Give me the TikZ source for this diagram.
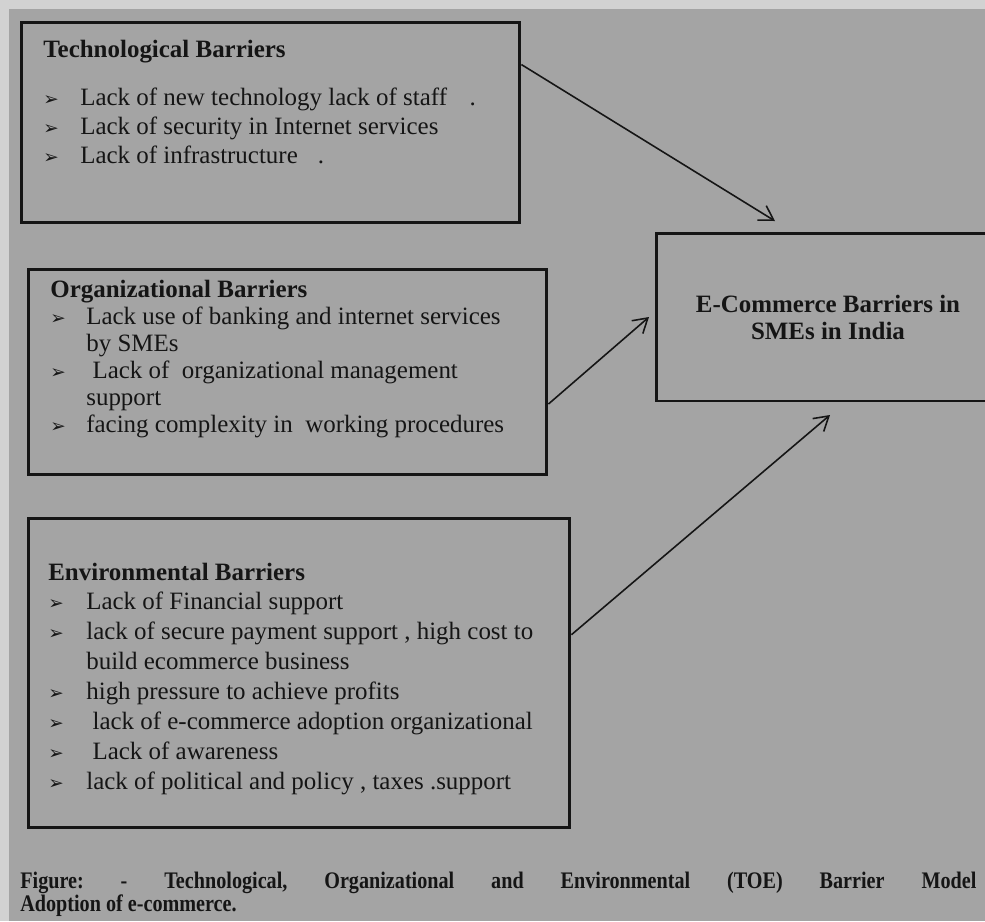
\documentclass[tikz,border=0pt]{standalone}
\usepackage{fontspec}
\setmainfont{Liberation Serif}
\newfontfamily\dingfont{DejaVu Sans}
\usepackage{xcolor}
\usepackage{graphicx}
\usepackage{tikz}
\usetikzlibrary{arrows.meta}
\usetikzlibrary{calc}
\definecolor{scangray}{HTML}{A4A4A4}
\definecolor{scanedge}{HTML}{D2D2D2}
\definecolor{inkblack}{HTML}{151515}
\tikzstyle{barbox}=[rectangle,draw=inkblack,line width=1.7pt,inner sep=0pt]
\tikzstyle{bartext}=[anchor=base west,inner sep=0pt,text=inkblack,font=\fontsize{14.2}{15.4}\selectfont]
\tikzstyle{barrow}=[draw=inkblack,line width=0.9pt,-{Straight Barb[length=2.8mm,width=3.4mm]}]
\tikzset{figcap/.style={anchor=base west,inner sep=0pt,align=left,text=inkblack,font=\bfseries\fontsize{13.5}{12.8}\selectfont}}
\newcommand{\barb}{{\dingfont\fontsize{10.5}{10.5}\selectfont ➢}}

\begin{document}
\frenchspacing
\begin{tikzpicture}[x=0.02cm, y=-0.02cm]

  \useasboundingbox (0,0) rectangle (985,921);
  \fill[scanedge] (0,0) rectangle (985,921);
  \fill[scangray] (9,9) rectangle (985,921);

  % the three barrier boxes and the target box
  \node[barbox, minimum width=9.98cm, minimum height=4.02cm] (tech) at (270.5,122.5) {};
  \node[barbox, minimum width=10.38cm, minimum height=4.12cm] (org) at (287.5,372) {};
  \node[barbox, minimum width=10.84cm, minimum height=6.2cm] (env) at (299,673) {};
  \node[barbox, minimum width=6.88cm, minimum height=3.36cm, align=center, text=inkblack,
        font=\bfseries\fontsize{14.2}{15.4}\selectfont] (ecom) at (828,317) {E-Commerce Barriers in\\SMEs in India};

  \node[bartext] (techtxt) at (43,57) {\renewcommand{\arraystretch}{1.074}%
    \begin{tabular}[t]{@{}p{0.74cm}@{}l@{}}
      \multicolumn{2}{@{}l@{}}{\bfseries Technological Barriers}\\[0.38cm]
      \barb & Lack of new technology lack of staff\hspace{0.45cm}.\\
      \barb & Lack of security in Internet services\\
      \barb & Lack of infrastructure\hspace{0.4cm}.
    \end{tabular}};

  \node[bartext] (orgtxt) at (50,297) {\renewcommand{\arraystretch}{1.0}%
    \begin{tabular}[t]{@{}p{0.72cm}@{}l@{}}
      \multicolumn{2}{@{}l@{}}{\bfseries Organizational Barriers}\\
      \barb & Lack use of banking and internet services\\
            & by SMEs\\
      \barb & \ Lack of \ organizational management\\
            & support\\
      \barb & facing complexity in \ working procedures
    \end{tabular}};

  \node[bartext] (envtxt) at (48,580) {\renewcommand{\arraystretch}{1.107}%
    \begin{tabular}[t]{@{}p{0.76cm}@{}l@{}}
      \multicolumn{2}{@{}l@{}}{\bfseries Environmental Barriers}\\
      \barb & Lack of Financial support\\
      \barb & lack of secure payment support , high cost to\\
            & build ecommerce business\\
      \barb & high pressure to achieve profits\\
      \barb & \ lack of e-commerce adoption organizational\\
      \barb & \ Lack of awareness\\
      \barb & lack of political and policy , taxes .support
    \end{tabular}};

  \coordinate (tiptech) at (775,221);
  \coordinate (tiporg) at (649,317);
  \coordinate (tipenv) at (830,415);

  \foreach \source/\dest in {tech.13.6/tiptech, org.-7.2/tiporg, env.8/tipenv}
         \path[barrow] (\source) -- (\dest);

  \node[figcap] (caption) at (20,911) {\scalebox{0.85}[1]{\parbox[b]{22.5cm}{\makebox[22.5cm][s]{Figure: - Technological, Organizational and Environmental (TOE) Barrier Model}\\Adoption of e-commerce.}}};

\end{tikzpicture}
\end{document}
